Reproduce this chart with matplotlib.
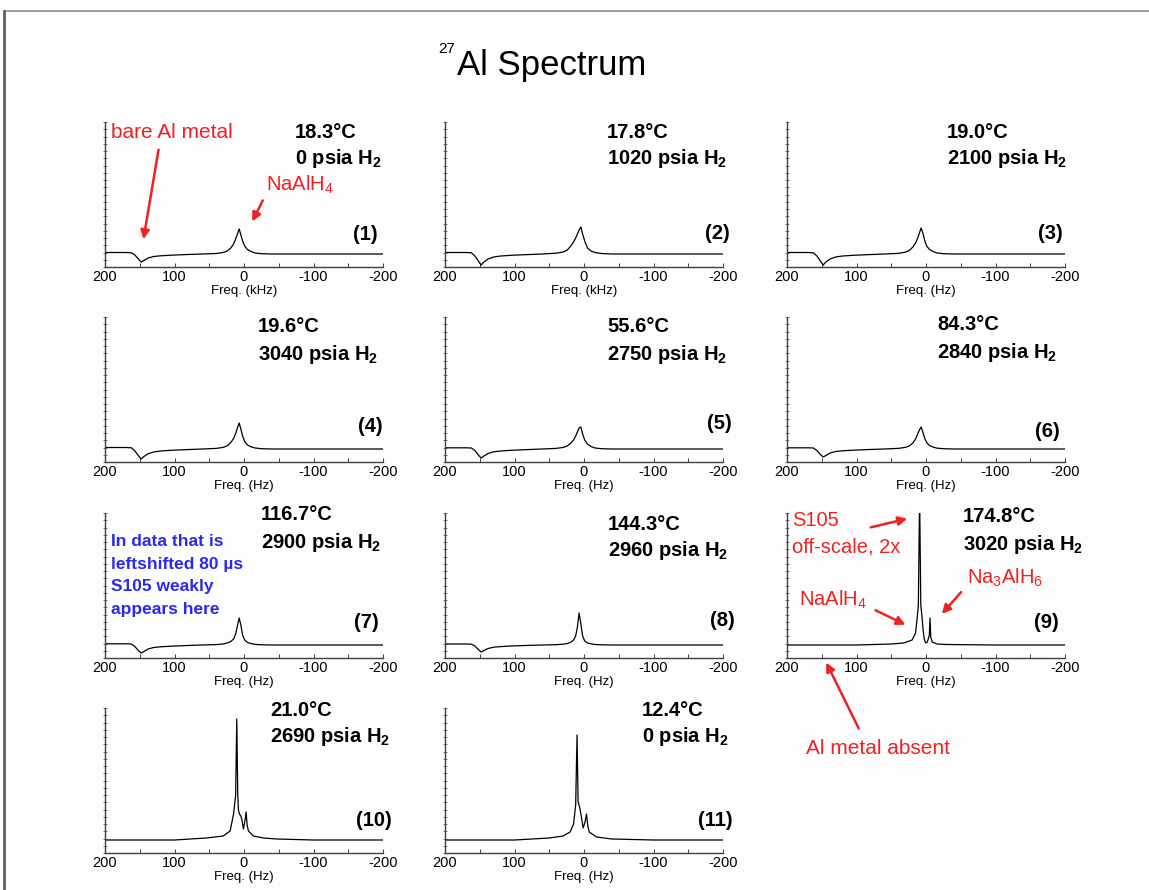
import numpy as np
import matplotlib
matplotlib.use('Agg')
import matplotlib.pyplot as plt
from matplotlib.ticker import FixedLocator
from matplotlib.patches import FancyArrowPatch
from matplotlib.lines import Line2D

W, H = 1149, 890

plt.rcParams['font.family'] = ['Liberation Sans', 'DejaVu Sans']
plt.rcParams['mathtext.fontset'] = 'custom'
plt.rcParams['mathtext.rm'] = 'Liberation Sans'
plt.rcParams['mathtext.bf'] = 'Liberation Sans:bold'
plt.rcParams['axes.unicode_minus'] = False

# ---- data (intensity in arbitrary units, baseline = 0)
freq_broad = [200, 170, 162, 157, 152, 148, 144, 138, 130, 120, 105, 85, 60, 40, 30,
              24, 19, 15, 12, 9.5, 7, 4.5, 2, -1, -5, -10, -16, -25, -40, -70, -120, -200]

spec1 = [1.5, 1.5, 1.2, -1, -5, -8, -6.5, -4, -2.5, -1.8, -1.2, -0.6, 0, 0.5, 1.5,
         3, 6, 10, 15, 20, 25, 19, 13, 8, 4.5, 2.5, 1, 0.3, 0, 0, 0, 0]
spec2 = [1.5, 1.5, 1.2, -2, -7, -11, -8, -5, -3, -2, -1.3, -0.7, 0, 0.8, 2,
         4, 8, 12, 16, 20, 24, 27, 20, 13, 6, 3, 1.5, 0.5, 0, 0, 0, 0]
spec3 = [1.5, 1.5, 1.2, -2, -7, -11, -8, -5, -3, -2, -1.3, -0.7, 0, 0.6, 1.8,
         3.5, 7, 11, 16, 21, 26, 21, 14, 8, 4.5, 2.5, 1, 0.3, 0, 0, 0, 0]
spec4 = [1.5, 1.5, 1.2, -2, -6.5, -10, -7.5, -4.8, -3, -2, -1.3, -0.7, 0, 0.6, 1.6,
         3.2, 6.5, 10.5, 15.5, 21, 26, 20, 13, 7.5, 4, 2.2, 1, 0.3, 0, 0, 0, 0]
spec5 = [1.2, 1.2, 1, -1.5, -6, -9, -7, -4.5, -2.8, -2, -1.3, -0.7, 0, 0.6, 1.6,
         3, 6, 9, 13, 17, 21, 22, 15, 9, 5, 2.5, 1, 0.3, 0, 0, 0, 0]
spec6 = [1.2, 1.2, 1, -1.5, -5.5, -8, -6.5, -4, -2.5, -1.8, -1.2, -0.6, 0, 0.6, 1.6,
         3, 6, 10, 15, 19, 22, 17, 11, 6.5, 3.5, 2, 0.8, 0.3, 0, 0, 0, 0]
spec7 = [1.2, 1.2, 1, -1.5, -5.5, -8, -6.5, -4, -2.5, -1.8, -1.2, -0.6, 0, 0.4, 1,
         2, 3.5, 6, 11, 19, 27, 20, 10, 5, 2.5, 1.5, 0.6, 0.2, 0, 0, 0, 0]
spec8 = [1, 1, 0.8, -1, -4.5, -7, -5.5, -3.5, -2.2, -1.6, -1, -0.5, 0, 0.3, 0.8,
         1.5, 2.8, 5, 9, 18, 32, 21, 9, 4, 2, 1.2, 0.5, 0.2, 0, 0, 0, 0]

freq9 = [200, 100, 50, 32, 20, 15, 13, 11, 9.2, 7.5, 6, 4, 2.5, 0.5, -2, -4.8, -5.8,
         -6.8, -9, -16, -30, -100, -200]
spec9 = [0, 0, 1, 2, 5, 12, 25, 40, 150, 40, 30, 14, 6, 2, 3, 10, 27,
         8, 3, 1, 0.5, 0, 0]

freq10 = [200, 100, 54, 30, 20, 15, 12, 10.4, 9, 8, 6.5, 4.5, 3, 0.8, -1.5, -3,
          -4.5, -6.4, -13.6, -28, -47, -100, -200]
spec10 = [0, 0, 2, 4, 9, 26, 45, 121, 45, 30, 26, 24, 20, 11, 20, 28,
          15, 9, 4, 2, 1, 0, 0]

freq11 = [200, 100, 50, 30, 20, 15, 12, 10, 8.5, 6, 3.5, 1.2, -1.5, -3.6, -5.5,
          -7.5, -18, -40, -100, -200]
spec11 = [0, 0, 2, 4, 8, 16, 35, 105, 38, 32, 22, 12, 18, 26, 14,
          8, 3, 1, 0, 0]

temps = ['18.3', '17.8', '19.0', '19.6', '55.6', '84.3', '116.7', '144.3', '174.8', '21.0', '12.4']
pressures = [0, 1020, 2100, 3040, 2750, 2840, 2900, 2960, 3020, 2690, 0]
units = ['kHz', 'kHz', 'Hz', 'Hz', 'Hz', 'Hz', 'Hz', 'Hz', 'Hz', 'Hz', 'Hz']

spectra = [(freq_broad, spec1), (freq_broad, spec2), (freq_broad, spec3),
           (freq_broad, spec4), (freq_broad, spec5), (freq_broad, spec6),
           (freq_broad, spec7), (freq_broad, spec8), (freq9, spec9),
           (freq10, spec10), (freq11, spec11)]

# ---- layout (pixels of the 1149x890 picture)
col_left = [105, 445, 787]
row_top = [122, 317, 513, 708]
ax_w, ax_h = 278, 145
temp_xy = [(295, 132), (607, 132), (947, 132), (258, 327), (607, 327), (937, 325),
           (261, 515), (608, 524), (963, 517), (270, 710), (642, 710)]
num_xy = [(378, 235), (730, 234), (1063, 234), (383, 426), (732, 423), (1060, 432),
          (379, 622), (735, 621), (1059, 623), (392, 820), (733, 820)]

RED = '#ee2222'
BLUE = '#2a2ae8'

fig = plt.figure(figsize=(W / 100, H / 100), dpi=100)
fig.patch.set_facecolor('#fdfdfd')


def put(x, y, s, **kw):
    kw.setdefault('va', 'center')
    fig.text(x / W, 1 - y / H, s, **kw)


def arrow(x0, y0, x1, y1):
    fig.add_artist(FancyArrowPatch((x0 / W, 1 - y0 / H), (x1 / W, 1 - y1 / H),
                                   transform=fig.transFigure, arrowstyle='-|>',
                                   mutation_scale=13, color=RED, lw=1.8))


# slide border
fig.add_artist(Line2D([4 / W, 1], [1 - 11 / H, 1 - 11 / H], transform=fig.transFigure,
                      color='#8a8a8a', lw=1.2))
fig.add_artist(Line2D([4 / W, 4 / W], [0, 1 - 11 / H], transform=fig.transFigure,
                      color='#606060', lw=2))

# title
put(455, 49, '27', fontsize=11, ha='right')
put(457, 66, 'Al Spectrum', fontsize=25)

for i, (f, s) in enumerate(spectra):
    left = col_left[i % 3]
    top = row_top[i // 3]
    ax = fig.add_axes([left / W, 1 - (top + ax_h) / H, ax_w / W, ax_h / H])
    ax.set_facecolor('none')
    ax.plot(f, s, color='black', lw=0.9)
    ax.set_xlim(200, -200)
    ax.set_ylim(-13, 132)
    for side in ['top', 'right']:
        ax.spines[side].set_visible(False)
    for side in ['left', 'bottom']:
        ax.spines[side].set_color('#404040')
        ax.spines[side].set_linewidth(1)
    ax.set_xticks([200, 100, 0, -100, -200])
    ax.set_xticks([150, 50, -50, -150], minor=True)
    ax.tick_params(axis='x', which='both', direction='in', length=3, width=0.7,
                   labelsize=10.5, pad=2, color='#404040')
    ax.yaxis.set_major_locator(FixedLocator(np.linspace(-13, 132, 21)))
    ax.tick_params(axis='y', direction='inout', length=3, width=0.6,
                   labelleft=False, color='#606060')
    ax.set_xlabel(f'Freq. ({units[i]})', fontsize=9.5, labelpad=1)

    tx, ty = temp_xy[i]
    put(tx, ty, f'{temps[i]}°C', fontsize=14.5, fontweight='bold')
    put(tx, ty + 27, f'{pressures[i]} psia H' + r'$_\mathbf{2}$', fontsize=14.5,
        fontweight='bold')
    nx, ny = num_xy[i]
    put(nx, ny, f'({i + 1})', fontsize=14.5, fontweight='bold', ha='right')

# annotations, panel (1)
put(111, 132, 'bare Al metal', fontsize=15, color=RED)
arrow(159, 147, 143, 242)
put(266, 185, r'NaAlH$_\mathrm{4}$', fontsize=14.5, color=RED)
arrow(264, 198, 251, 224)

# panel (7)
for k, line in enumerate(['In data that is', 'leftshifted 80 µs',
                          'S105 weakly', 'appears here']):
    put(111, 542 + 22.5 * k, line, fontsize=12.5, fontweight='bold', color=BLUE)

# panel (9)
put(792, 521, 'S105', fontsize=14.5, color=RED)
put(792, 547, 'off-scale, 2x', fontsize=14.5, color=RED)
arrow(868, 528, 910, 518)
put(799, 600, r'NaAlH$_\mathrm{4}$', fontsize=14.5, color=RED)
arrow(873, 609, 908, 626)
put(967, 578, r'Na$_\mathrm{3}$AlH$_\mathrm{6}$', fontsize=14.5, color=RED)
arrow(963, 590, 940, 616)
put(806, 748, 'Al metal absent', fontsize=15, color=RED)
arrow(860, 731, 825, 660)

fig.savefig('out.png', dpi=100, facecolor=fig.get_facecolor())
